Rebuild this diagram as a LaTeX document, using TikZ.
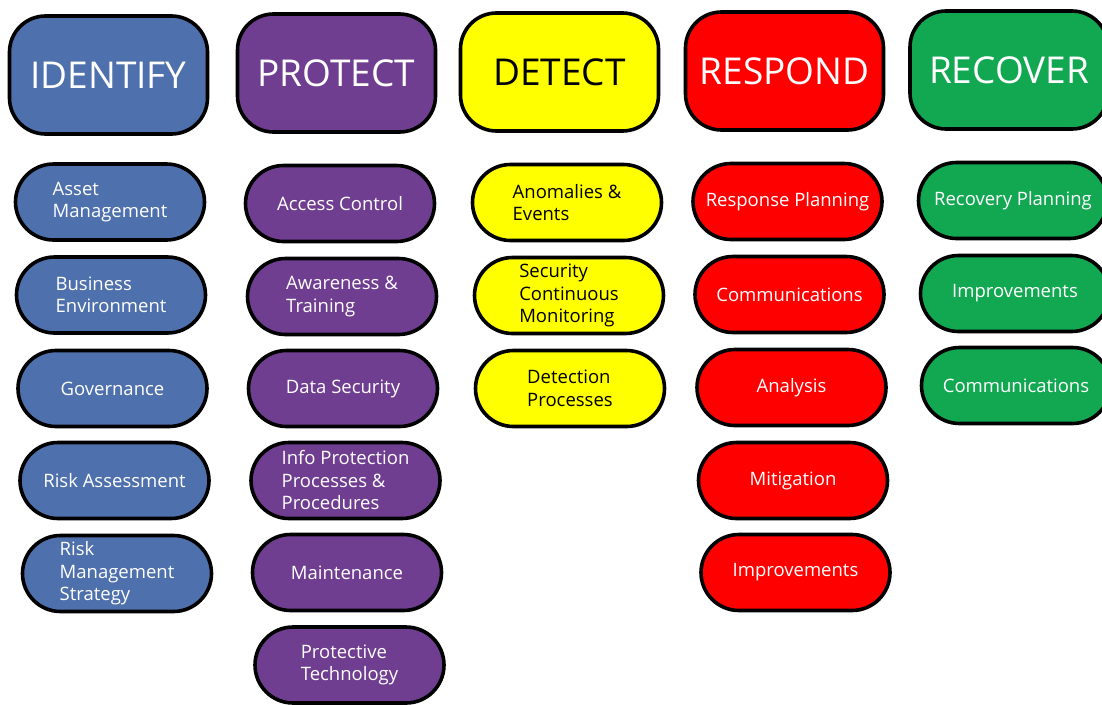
\documentclass[tikz,border=0pt]{standalone}
\usepackage{fontspec}
\setmainfont{Open Sans}
\definecolor{idblue}{RGB}{78,112,172}
\definecolor{prpurple}{RGB}{112,62,145}
\definecolor{deyellow}{RGB}{255,255,0}
\definecolor{rsred}{RGB}{255,0,0}
\definecolor{rcgreen}{RGB}{18,168,82}
\begin{document}
\begin{tikzpicture}[x=1pt,y=-1pt,
  head/.style={draw=black, line width=3.6pt, rounded corners=36pt,
    minimum width=198pt, minimum height=118pt, inner sep=0pt,
    font=\fontsize{37}{44}\selectfont},
  sub/.style={draw=black, line width=3.6pt, rounded corners=38pt,
    minimum width=189pt, minimum height=76pt, inner sep=0pt, align=left,
    font=\fontsize{18.5}{22.5}\selectfont},
  idc/.style={fill=idblue, text=white},
  prc/.style={fill=prpurple, text=white},
  dec/.style={fill=deyellow, text=black},
  rsc/.style={fill=rsred, text=white},
  rcc/.style={fill=rcgreen, text=white}]
\useasboundingbox (0,0) rectangle (1102,704);
% headers
\node[head, idc] (hid) at (108.5,75) {IDENTIFY};
\node[head, prc] (hpr) at (336.5,73) {PROTECT};
\node[head, dec] (hde) at (559.5,72) {DETECT};
\node[head, rsc] (hrs) at (784.5,71) {RESPOND};
\node[head, rcc] (hrc) at (1009,70) {RECOVER};
% identify
\node[sub, idc] (id1) at (110,202) {Asset\\Management};
\node[sub, idc] (id2) at (111,295) {Business\\Environment};
\node[sub, idc] (id3) at (112.5,388.5) {Governance};
\node[sub, idc] (id4) at (114.5,480.5) {Risk Assessment};
\node[sub, idc] (id5) at (117,573.5) {Risk\\Management\\Strategy};
% protect
\node[sub, prc] (pr1) at (340,203.5) {Access Control};
\node[sub, prc] (pr2) at (342,296.5) {Awareness \&\\Training};
\node[sub, prc] (pr3) at (343,388.5) {Data Security};
\node[sub, prc] (pr4) at (345.5,480.5) {Info Protection\\Processes \&\\Procedures};
\node[sub, prc] (pr5) at (347,572.5) {Maintenance};
\node[sub, prc] (pr6) at (349.5,665) {Protective\\Technology};
% detect
\node[sub, dec] (de1) at (567,202.5) {Anomalies \&\\Events};
\node[sub, dec] (de2) at (569,295.5) {Security\\Continuous\\Monitoring};
\node[sub, dec] (de3) at (570,388.5) {Detection\\Processes};
% respond
\node[sub, rsc] (rs1) at (787.5,201.5) {Response Planning};
\node[sub, rsc] (rs2) at (789.5,294.5) {Communications};
\node[sub, rsc] (rs3) at (791.5,387.5) {Analysis};
\node[sub, rsc] (rs4) at (793,480.5) {Mitigation};
\node[sub, rsc] (rs5) at (795.5,572.5) {Improvements};
% recover
\node[sub, rcc] (rc1) at (1013,200.5) {Recovery Planning};
\node[sub, rcc] (rc2) at (1015,293.5) {Improvements};
\node[sub, rcc] (rc3) at (1016,385.5) {Communications};
\end{tikzpicture}
\end{document}
